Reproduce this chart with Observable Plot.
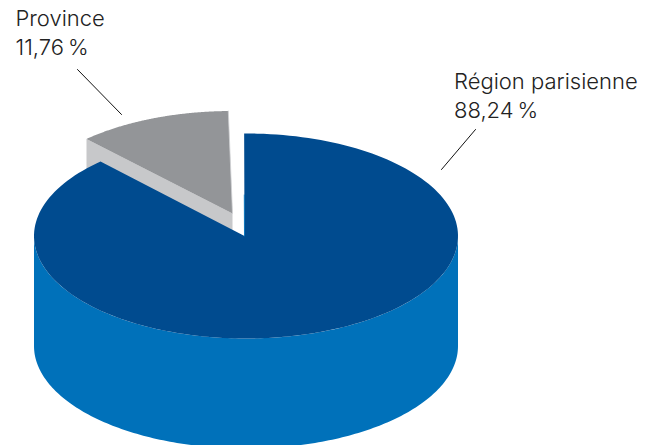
<!DOCTYPE html>
<html lang="fr">
<head>
<meta charset="utf-8">
<script src="https://cdn.jsdelivr.net/npm/d3@7"></script>
<script src="https://cdn.jsdelivr.net/npm/@observablehq/plot@0.6"></script>
<style>html,body{margin:0;padding:0;background:#fff;overflow:hidden}svg{display:block}</style>
</head>
<body>
<div id="chart"></div>
<script>
const categories = ["Région parisienne", "Province"];
const shares = [88.24, 11.76];
const topColors = ["#004b8f", "#939598"];
const wallColors = ["#0071ba", "#c7c8ca"];

const W = 662, H = 445;
const cx = 245.5, cy = 235.5, rx = 212, ry = 102.5, depth = 110;
const startAngle = -1;
const notchAngle = -0.5;
const apex = {x: 244, y: 235.5};
const provApex = {x: 232, y: 213};
const burstX = -14, burstY = -22.5;

const mainEnd = startAngle + shares[0] / 100 * 360;
const rim = (deg, ox = 0, oy = 0) => {
  const a = deg * Math.PI / 180;
  return {x: cx + ox + rx * Math.sin(a), y: cy + oy - ry * Math.cos(a)};
};
const arc = (from, to, ox = 0, oy = 0) =>
  d3.range(0, 181).map(i => rim(from + (to - from) * i / 180, ox, oy));

const mainTop = [apex, ...arc(notchAngle, mainEnd)];
const mainWall = [...arc(90, 270), ...arc(90, 270, 0, depth).reverse()];
const provArc = arc(mainEnd, startAngle + 360, burstX, burstY);
const provTop = [provApex, ...provArc];
const pA = provArc[0];
const provWall = [pA, provApex, {x: provApex.x, y: provApex.y + depth}, {x: pA.x, y: pA.y + depth}];
const notchEdge = [apex, {x: apex.x - 0.2, y: apex.y - ry * 0.4}];

const fmt = v => v.toFixed(2).replace(".", ",") + "\u202f%";
const labels = [
  {text: categories[1] + "\n" + fmt(shares[1]), x: 15, y: 5},
  {text: categories[0] + "\n" + fmt(shares[0]), x: 453.5, y: 68}
];
const leaders = [
  [{x: 77, y: 69}, {x: 121, y: 114}],
  [{x: 475, y: 129}, {x: 441, y: 169}]
];

const poly = (pts, fill) => Plot.line(pts, {x: "x", y: "y", fill, stroke: "none"});

const chart = Plot.plot({
  width: W, height: H,
  margin: 0,
  x: {domain: [0, W], range: [0, W], axis: null},
  y: {domain: [0, H], range: [0, H], axis: null},
  style: {fontFamily: "Inter, sans-serif", background: "#fff"},
  marks: [
    poly(provWall, wallColors[1]),
    poly(provTop, topColors[1]),
    Plot.line([provArc[provArc.length - 1], provApex], {x: "x", y: "y", stroke: "#d1d2d4", strokeWidth: 0.8}),
    poly(mainWall, wallColors[0]),
    poly(mainTop, topColors[0]),
    Plot.line(notchEdge, {x: "x", y: "y", stroke: wallColors[0], strokeWidth: 0.9}),
    ...leaders.map(l => Plot.line(l, {x: "x", y: "y", stroke: "#111", strokeWidth: 1})),
    Plot.text(labels, {
      x: "x", y: "y", text: "text",
      textAnchor: "start", lineAnchor: "top",
      fontSize: 22, lineHeight: 1.32, fontWeight: 300, fill: "#222"
    })
  ]
});
document.getElementById("chart").append(chart);
</script>
</body>
</html>
